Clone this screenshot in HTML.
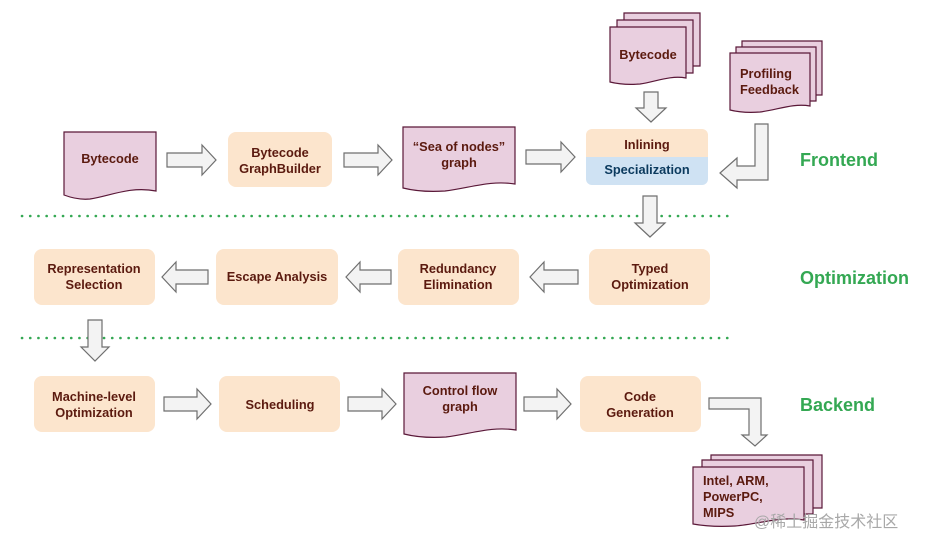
<!DOCTYPE html>
<html><head><meta charset="utf-8">
<style>
html,body{margin:0;padding:0;background:#fff;}
svg{display:block;}
text{font-family:"Liberation Sans","Noto Sans CJK SC",sans-serif;font-weight:bold;font-size:12.8px;text-anchor:middle;}
.t{fill:#5b1a0f;}
.d{fill:#e9cfdf;stroke:#5a1838;stroke-width:1.2;}
.b{fill:#fce5cd;}
.a{fill:#f3f3f3;stroke:#6f6f6f;stroke-width:1.2;}
.g{fill:#34a853;font-size:18px;text-anchor:start;}
</style></head>
<body>
<svg width="931" height="549" viewBox="0 0 931 549" xmlns="http://www.w3.org/2000/svg">
<line x1="22" y1="216" x2="730" y2="216" stroke="#34a853" stroke-width="2.6" stroke-dasharray="0.1 8.1" stroke-linecap="round"/>
<line x1="22" y1="338" x2="730" y2="338" stroke="#34a853" stroke-width="2.6" stroke-dasharray="0.1 8.1" stroke-linecap="round"/>

<path class="d" d="M64 132H156V191C130 186 110 196 90 199C80 200 72 198 64 195Z"/>
<text class="t" x="110" y="163">Bytecode</text>

<path class="d" d="M403 127H515V184C490 180 470 188 445 191C430 192 415 191 403 188Z"/>
<text class="t" x="459" y="151">“Sea of nodes”</text>
<text class="t" x="459" y="167">graph</text>

<path class="d" d="M404 373H516V430C491 426 471 434 446 437C431 438 416 437 404 434Z"/>
<text class="t" x="460" y="395">Control flow</text>
<text class="t" x="460" y="411">graph</text>

<path class="d" d="M624 13H700V66H624Z"/>
<path class="d" d="M617 20H693V73H617Z"/>
<path class="d" d="M610 27H686V78C670 75 655 82 640 84C628 85 618 84 610 82Z"/>
<text class="t" x="648" y="59">Bytecode</text>

<path class="d" d="M742 41H822V95H742Z"/>
<path class="d" d="M736 47H816V101H736Z"/>
<path class="d" d="M730 53H810V106C793 103 777 110 760 112C748 113 738 112 730 110Z"/>
<text class="t" x="740" y="78" style="text-anchor:start">Profiling</text>
<text class="t" x="740" y="94" style="text-anchor:start">Feedback</text>

<path class="d" d="M711 455H822V508H711Z"/>
<path class="d" d="M702 460H813V514H702Z"/>
<path class="d" d="M693 467H804V520C780 516 760 524 735 526C718 527 704 526 693 524Z"/>
<text class="t" x="703" y="485" style="text-anchor:start">Intel, ARM,</text>
<text class="t" x="703" y="501" style="text-anchor:start">PowerPC,</text>
<text class="t" x="703" y="517" style="text-anchor:start">MIPS</text>

<rect class="b" x="228" y="132" width="104" height="55" rx="8"/>
<text class="t" x="280" y="157">Bytecode</text>
<text class="t" x="280" y="173">GraphBuilder</text>

<clipPath id="c1"><rect x="586" y="129" width="122" height="56" rx="6"/></clipPath>
<g clip-path="url(#c1)">
<rect x="586" y="129" width="122" height="28" fill="#fce5cd"/>
<rect x="586" y="157" width="122" height="28" fill="#cfe2f3"/>
</g>
<text class="t" x="647" y="149">Inlining</text>
<text x="647" y="174" style="fill:#0b3a5e">Specialization</text>

<rect class="b" x="34" y="249" width="121" height="56" rx="8"/>
<text class="t" x="94" y="273">Representation</text>
<text class="t" x="94" y="289">Selection</text>
<rect class="b" x="216" y="249" width="122" height="56" rx="8"/>
<text class="t" x="277" y="281">Escape Analysis</text>
<rect class="b" x="398" y="249" width="121" height="56" rx="8"/>
<text class="t" x="458" y="273">Redundancy</text>
<text class="t" x="458" y="289">Elimination</text>
<rect class="b" x="589" y="249" width="121" height="56" rx="8"/>
<text class="t" x="650" y="273">Typed</text>
<text class="t" x="650" y="289">Optimization</text>

<rect class="b" x="34" y="376" width="121" height="56" rx="8"/>
<text class="t" x="94" y="401">Machine-level</text>
<text class="t" x="94" y="417">Optimization</text>
<rect class="b" x="219" y="376" width="121" height="56" rx="8"/>
<text class="t" x="280" y="409">Scheduling</text>
<rect class="b" x="580" y="376" width="121" height="56" rx="8"/>
<text class="t" x="640" y="401">Code</text>
<text class="t" x="640" y="417">Generation</text>

<polygon class="a" points="167,153 202,153 202,145 216,160 202,175 202,167 167,167"/>
<polygon class="a" points="344,153 378,153 378,145 392,160 378,175 378,167 344,167"/>
<polygon class="a" points="526,150 561,150 561,142 575,157 561,172 561,164 526,164"/>
<polygon class="a" points="164,397 197,397 197,389 211,404 197,419 197,411 164,411"/>
<polygon class="a" points="348,397 382,397 382,389 396,404 382,419 382,411 348,411"/>
<polygon class="a" points="524,397 557,397 557,389 571,404 557,419 557,411 524,411"/>
<polygon class="a" points="208,270 176,270 176,262 162,277 176,292 176,284 208,284"/>
<polygon class="a" points="391,270 360,270 360,262 346,277 360,292 360,284 391,284"/>
<polygon class="a" points="578,270 544,270 544,262 530,277 544,292 544,284 578,284"/>
<polygon class="a" points="644,92 658,92 658,108 666,108 651,122 636,108 644,108"/>
<polygon class="a" points="643,196 657,196 657,223 665,223 650,237 635,223 643,223"/>
<polygon class="a" points="88,320 102,320 102,347 109,347 95,361 81,347 88,347"/>
<polygon class="a" points="755,124 768,124 768,180 737,180 737,188 720,173 737,158 737,166 755,166"/>
<polygon class="a" points="709,398 761,398 761,435 767,435 755,446 742,435 749,435 749,409 709,409"/>

<text class="g" x="800" y="166">Frontend</text>
<text class="g" x="800" y="284">Optimization</text>
<text class="g" x="800" y="411">Backend</text>

<text x="754" y="527" style="text-anchor:start;font-weight:normal;font-size:16px;fill:#a8a8a8;">@稀土掘金技术社区</text>
</svg>
</body></html>
